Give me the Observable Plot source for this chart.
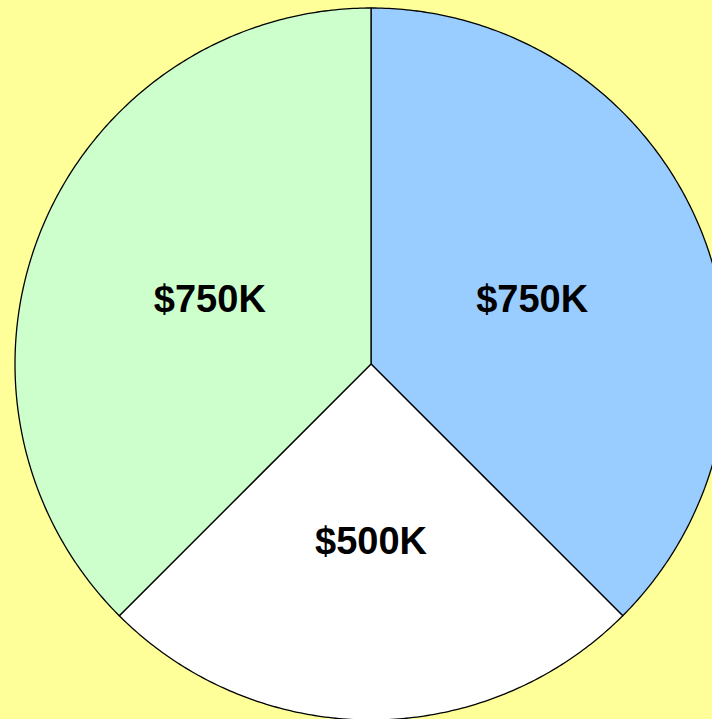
<!DOCTYPE html>
<html>
<head>
<meta charset="utf-8">
<script src="https://cdn.jsdelivr.net/npm/d3@7"></script>
<script src="https://cdn.jsdelivr.net/npm/@observablehq/plot@0.6"></script>
<style>
  html, body { margin: 0; padding: 0; background: #FFFF99; overflow: hidden; }
  #chart { width: 712px; height: 719px; overflow: hidden; }
</style>
</head>
<body>
<div id="chart"></div>
<script>
const categories = ["A", "B", "C"];
const values = [750, 500, 750];
const labels = ["$750K", "$500K", "$750K"];
const colors = ["#99CCFF", "#FFFFFF", "#CCFFCC"];

const pie = d3.pie().sort(null).value(d => d.value);
const arcs = pie(categories.map((c, i) => ({key: c, value: values[i], label: labels[i]})));

// Build slice outlines (angles from top, clockwise) in unit coordinates
const outline = [];
for (const a of arcs) {
  const steps = Math.max(2, Math.ceil((a.endAngle - a.startAngle) / 0.01));
  outline.push({key: a.data.key, x: 0, y: 0});
  for (let s = 0; s <= steps; s++) {
    const t = a.startAngle + (a.endAngle - a.startAngle) * s / steps;
    outline.push({key: a.data.key, x: Math.sin(t), y: Math.cos(t)});
  }
}
const labelPts = arcs.map(a => {
  const m = (a.startAngle + a.endAngle) / 2;
  return {label: a.data.label, x: 0.49 * Math.sin(m), y: 0.49 * Math.cos(m)};
});

const cx = 370.5, cy = 363.5, R = 356;
const chart = Plot.plot({
  width: 712,
  height: 719,
  margin: 0,
  style: {background: "#FFFF99", overflow: "hidden"},
  x: {domain: [-1, 1], range: [cx - R, cx + R], axis: null},
  y: {domain: [-1, 1], range: [cy + R, cy - R], axis: null},
  color: {domain: categories, range: colors},
  marks: [
    Plot.line(outline, {x: "x", y: "y", z: "key", fill: "key", stroke: "#000", strokeWidth: 1.3, curve: "linear-closed", strokeLinejoin: "round"}),
    Plot.text(labelPts, {x: "x", y: "y", text: "label", fill: "#000", fontSize: 38, fontWeight: "bold", fontFamily: "Liberation Sans, Arial, sans-serif", textAnchor: "middle", lineAnchor: "middle", dy: 3})
  ]
});
document.getElementById("chart").appendChild(chart);
</script>
</body>
</html>
